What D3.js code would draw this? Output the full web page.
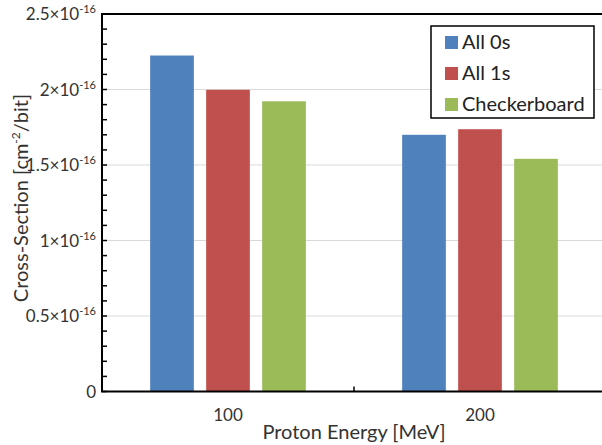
<!DOCTYPE html>
<html>
<head>
<meta charset="utf-8">
<script src="https://cdn.jsdelivr.net/npm/d3@7"></script>
<style>
  body { margin: 0; background: #fff; }
  svg { display: block; font-family: Lato, "Open Sans", sans-serif; }
</style>
</head>
<body>
<div class="chart"></div>
<script>
// values in units of 1e-16 cm^2/bit
var energies = ['100', '200'];
var seriesNames = ['All 0s', 'All 1s', 'Checkerboard'];
var seriesColors = ['#4F81BD', '#C0504D', '#9BBB59'];
var all0s = [2.225, 1.70];
var all1s = [1.998, 1.737];
var checkerboard = [1.922, 1.541];
var yTicks = [0, 0.5, 1, 1.5, 2, 2.5];
var yTickLabels = ['0', '0.5×10', '1×10', '1.5×10', '2×10', '2.5×10'];

var W = 602, H = 445;
var pLeft = 102, pTop = 14, pRight = 606, pBottom = 391.5;

var svg = d3.select('.chart').append('svg')
    .attr('width', W)
    .attr('height', H);

var x = d3.scaleBand().domain(energies).range([pLeft, pRight]);
var xInner = d3.scaleBand().domain(seriesNames)
    .range([0, x.bandwidth()])
    .paddingInner(0.22)
    .paddingOuter(0.86);
var y = d3.scaleLinear().domain([0, 2.5]).range([pBottom, pTop]);

// gridlines
svg.append('g').selectAll('line')
    .data(yTicks.filter(function(d) { return d > 0 && d < 2.5; }))
    .enter().append('line')
    .attr('x1', pLeft).attr('x2', pRight)
    .attr('y1', function(d) { return y(d); })
    .attr('y2', function(d) { return y(d); })
    .attr('stroke', '#D9D9D9')
    .attr('stroke-width', 1);

// bars
var rows = [];
energies.forEach(function(e, i) {
  [all0s, all1s, checkerboard].forEach(function(arr, j) {
    rows.push({ energy: e, series: seriesNames[j], color: seriesColors[j], value: arr[i] });
  });
});
svg.append('g').selectAll('rect')
    .data(rows)
    .enter().append('rect')
    .attr('x', function(d) { return x(d.energy) + xInner(d.series); })
    .attr('width', xInner.bandwidth())
    .attr('y', function(d) { return y(d.value); })
    .attr('height', function(d) { return y(0) - y(d.value); })
    .attr('fill', function(d) { return d.color; });

// y axis: minor ticks inside
var minor = d3.range(0, 25).map(function(i) { return i / 10; });
svg.append('g').selectAll('line')
    .data(minor)
    .enter().append('line')
    .attr('x1', pLeft).attr('x2', pLeft + 5)
    .attr('y1', function(d) { return y(d); })
    .attr('y2', function(d) { return y(d); })
    .attr('stroke', '#000')
    .attr('stroke-width', 1.5);

// x axis ticks at category boundaries
svg.append('g').selectAll('line')
    .data(energies.slice(1))
    .enter().append('line')
    .attr('x1', function(d) { return x(d); })
    .attr('x2', function(d) { return x(d); })
    .attr('y1', pBottom).attr('y2', pBottom - 5)
    .attr('stroke', '#000')
    .attr('stroke-width', 1.5);

// frame lines
svg.append('path')
    .attr('d', 'M' + pRight + ',' + pTop + 'H' + pLeft + 'V' + pBottom + 'H' + pRight)
    .attr('fill', 'none')
    .attr('stroke', '#000')
    .attr('stroke-width', 2);

// y tick labels
var yl = svg.append('g').selectAll('text')
    .data(yTicks)
    .enter().append('text')
    .attr('x', 96)
    .attr('y', function(d) { return y(d) + 6; })
    .attr('text-anchor', 'end')
    .attr('font-size', 17)
    .attr('fill', '#333');
yl.append('tspan').text(function(d, i) { return yTickLabels[i]; });
yl.filter(function(d) { return d > 0; })
    .append('tspan')
    .attr('dy', -7)
    .attr('font-size', 11)
    .text('-16');

// x tick labels
svg.append('g').selectAll('text')
    .data(energies)
    .enter().append('text')
    .attr('x', function(d) { return x(d) + x.bandwidth() / 2; })
    .attr('y', 421)
    .attr('text-anchor', 'middle')
    .attr('font-size', 17)
    .attr('fill', '#333')
    .text(function(d) { return d; });

// axis titles
svg.append('text')
    .attr('x', 354)
    .attr('y', 439)
    .attr('text-anchor', 'middle')
    .attr('font-size', 20)
    .attr('fill', '#333')
    .text('Proton Energy [MeV]');

var yt = svg.append('text')
    .attr('transform', 'translate(28,198) rotate(-90)')
    .attr('text-anchor', 'middle')
    .attr('font-size', 20)
    .attr('fill', '#333');
yt.append('tspan').text('Cross-Section [cm');
yt.append('tspan').attr('dy', -8).attr('font-size', 12).text('-2');
yt.append('tspan').attr('dy', 8).text('/bit]');

// legend
var lg = svg.append('g');
lg.append('rect')
    .attr('x', 431).attr('y', 26)
    .attr('width', 163).attr('height', 92)
    .attr('fill', '#fff')
    .attr('stroke', '#000')
    .attr('stroke-width', 1.5);
var items = lg.selectAll('g.item')
    .data(seriesNames)
    .enter().append('g')
    .attr('class', 'item')
    .attr('transform', function(d, i) { return 'translate(445,' + (42 + i * 31) + ')'; });
items.append('rect')
    .attr('width', 13).attr('height', 13)
    .attr('y', -6)
    .attr('fill', function(d, i) { return seriesColors[i]; });
items.append('text')
    .attr('x', 17)
    .attr('y', 7)
    .attr('font-size', 20)
    .attr('fill', '#222')
    .text(function(d) { return d; });
</script>
</body>
</html>
